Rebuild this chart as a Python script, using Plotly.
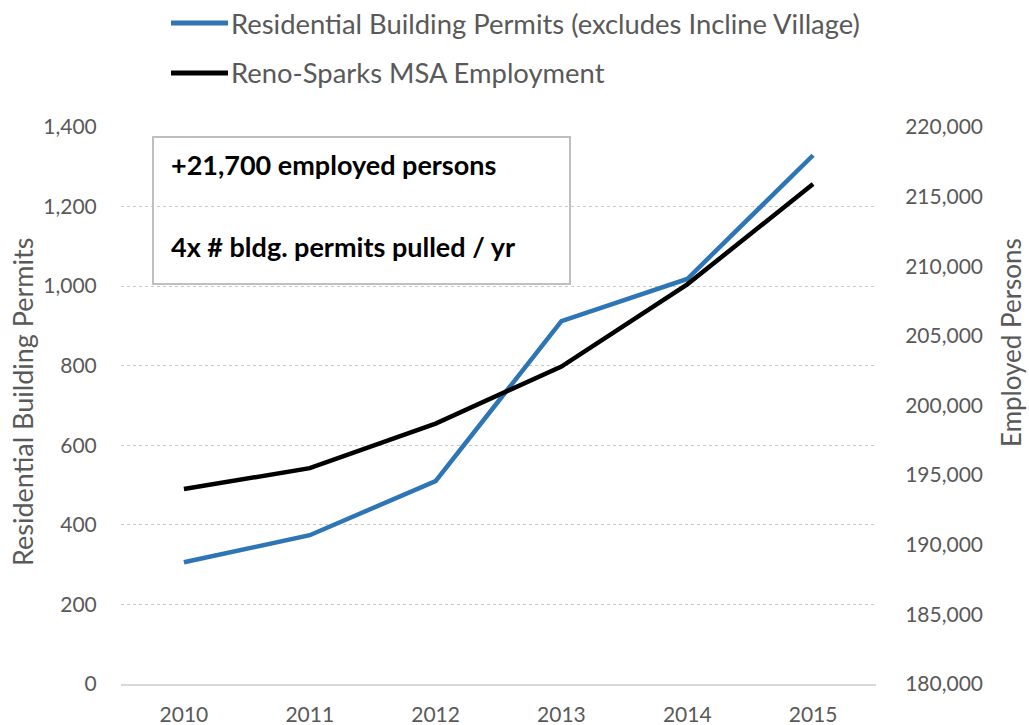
import plotly.graph_objects as go

years = ["2010", "2011", "2012", "2013", "2014", "2015"]
permits = [306, 374, 510, 912, 1018, 1329]
employment = [194000, 195500, 198700, 202800, 208700, 215900]
series_names = ["Residential Building Permits (excludes Incline Village)", "Reno-Sparks MSA Employment"]
series_colors = ["#2E75B6", "#000000"]
box_lines = ["+21,700 employed persons", "4x # bldg. permits pulled / yr"]
left_title = "Residential Building Permits"
right_title = "Employed Persons"

W, H = 1029, 725
L, R, T, B = 121, 1029 - 876, 127, 725 - 684
pw, ph = W - L - R, H - T - B

def px(x):
    return (x - L) / pw

def py(y):
    return (H - B - y) / ph

FONT = "Lato"
GRAY = "#595959"

fig = go.Figure()
fig.add_trace(go.Scatter(x=years, y=permits, mode="lines", name=series_names[0],
                         line=dict(color=series_colors[0], width=4.5), yaxis="y", showlegend=False))
fig.add_trace(go.Scatter(x=years, y=employment, mode="lines", name=series_names[1],
                         line=dict(color=series_colors[1], width=4.5), yaxis="y2", showlegend=False))

shapes = []
annotations = []
# custom legend
for i, (nm, col) in enumerate(zip(series_names, series_colors)):
    yy = 23 + i * 50
    shapes.append(dict(type="line", xref="paper", yref="paper", x0=px(171), x1=px(228), y0=py(yy), y1=py(yy),
                       line=dict(color=col, width=5)))
    annotations.append(dict(xref="paper", yref="paper", x=px(229), y=py(yy), xanchor="left", yanchor="middle",
                            text=nm, showarrow=False, font=dict(family=FONT, size=27.4, color=GRAY)))

# text box
shapes.append(dict(type="rect", xref="paper", yref="paper", x0=px(153), x1=px(570), y0=py(284), y1=py(137),
                   line=dict(color="#BFBFBF", width=2), fillcolor="rgba(0,0,0,0)"))
for yy, t in zip([165, 246], box_lines):
    annotations.append(dict(xref="paper", yref="paper", x=px(169), y=py(yy), xanchor="left", yanchor="middle",
                            text="<b>" + t + "</b>", showarrow=False, font=dict(family=FONT, size=27, color="#000000")))

# axis titles
annotations.append(dict(xref="paper", yref="paper", x=px(22), y=py(402), xanchor="center", yanchor="middle",
                        textangle=-90, text=left_title, showarrow=False, font=dict(family=FONT, size=27, color=GRAY)))
annotations.append(dict(xref="paper", yref="paper", x=px(1011), y=py(343), xanchor="center", yanchor="middle",
                        textangle=-90, text=right_title, showarrow=False, font=dict(family=FONT, size=26, color=GRAY)))

fig.update_layout(
    width=W, height=H,
    margin=dict(l=L, r=R, t=T, b=B, pad=0),
    plot_bgcolor="white", paper_bgcolor="white",
    font=dict(family=FONT, color=GRAY),
    xaxis=dict(type="category", range=[-0.5, 5.5], showgrid=False, showline=True, linecolor="#D9D9D9", linewidth=2,
               ticks="outside", ticklen=11, tickcolor="rgba(0,0,0,0)", tickfont=dict(size=21, color=GRAY),
               zeroline=False, automargin=False),
    yaxis=dict(range=[0, 1400], dtick=200, tickformat=",d", showgrid=True, gridcolor="#C8C8C8", griddash="dot",
               gridwidth=1, zeroline=False, showline=False, ticks="outside", ticklen=19, tickcolor="rgba(0,0,0,0)",
               tickfont=dict(size=21, color=GRAY), automargin=False),
    yaxis2=dict(range=[180000, 220000], dtick=5000, tickformat=",d", overlaying="y", side="right", showgrid=False,
                zeroline=False, showline=False, ticks="outside", ticklen=24, tickcolor="rgba(0,0,0,0)",
                tickfont=dict(size=21, color=GRAY), automargin=False),
    shapes=shapes, annotations=annotations,
)

fig.write_html("out.html")
